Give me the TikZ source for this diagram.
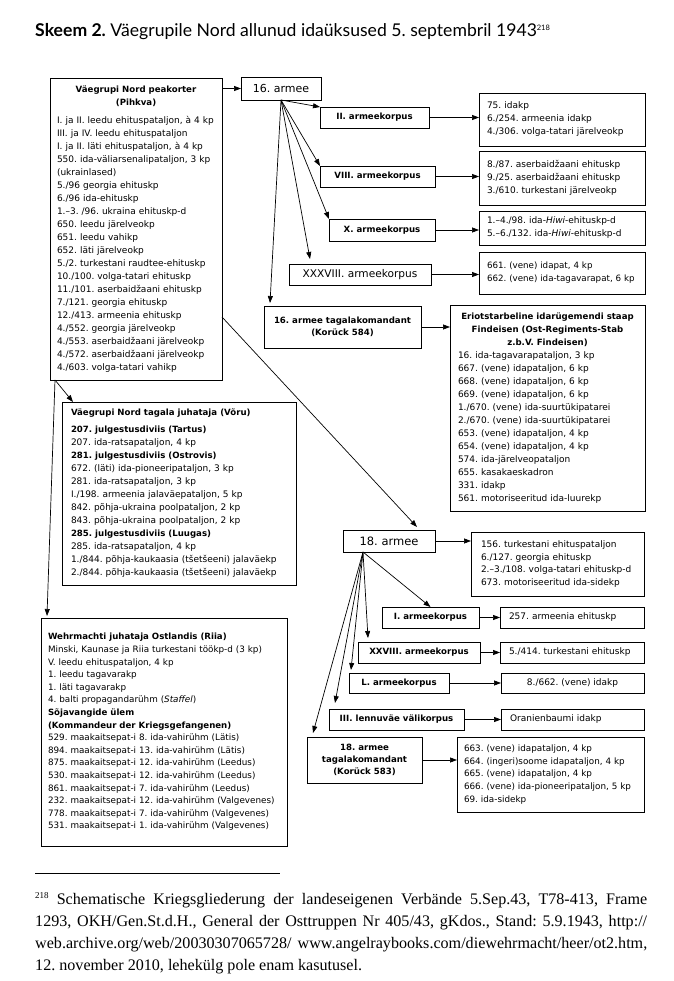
\documentclass[tikz,border=0pt]{standalone}
\usepackage{fontspec}
\setmainfont{DejaVu Sans}
\newfontfamily\titlefont{Lato}
\newfontfamily\notefont{Liberation Serif}
\usetikzlibrary{arrows.meta,calc}
\newcommand\bsm[1]{{\fontsize{8.6}{13}\selectfont\bfseries #1}}
\tikzset{
 box/.style={draw, line width=0.8pt, anchor=north west, inner ysep=0pt, outer sep=0pt},
 itembox/.style={box, align=left, inner xsep=#1, font=\fontsize{9}{13}\selectfont},
 itembox/.default=8pt,
 corps/.style={box, inner xsep=0pt, align=center, font=\fontsize{8.6}{12.3}\selectfont\bfseries},
 army/.style={box, inner xsep=0pt, font=\fontsize{11}{13}\selectfont},
 arr/.style={line width=0.7pt, -{Triangle[length=7pt,width=5pt]}},
}
\begin{document}
\frenchspacing\hyphenpenalty=10000 \exhyphenpenalty=10000
\begin{tikzpicture}[x=1pt,y=-1pt]
\fill[white] (0,0) rectangle (673,981);
\useasboundingbox (0,0) rectangle (673,981);

\node[anchor=base west, inner sep=0pt, font=\titlefont\fontsize{17.6}{20}\selectfont] (title) at (35,37)
 {\textbf{Skeem 2.} Väegrupile Nord allunud idaüksused 5. septembril 1943\raisebox{6pt}{\fontsize{7.5}{8}\selectfont 218}};

% Army group HQ
\node[itembox=7pt, text width=158pt, minimum height=302pt] (hq) at (50,78) {%
{\centering\bsm{Väegrupi Nord peakorter\\(Pihkva)}\par}\vspace{5pt}
I. ja II. leedu ehituspataljon, à 4 kp\\
III. ja IV. leedu ehituspataljon\\
I. ja II. läti ehituspataljon, à 4 kp\\
550. ida-väliarsenalipataljon, 3 kp\\
(ukrainlased)\\
5./96 georgia ehituskp\\
6./96 ida-ehituskp\\
1.–3. /96. ukraina ehituskp-d\\
650. leedu järelveokp\\
651. leedu vahikp\\
652. läti järelveokp\\
5./2. turkestani raudtee-ehituskp\\
10./100. volga-tatari ehituskp\\
11./101. aserbaidžaani ehituskp\\
7./121. georgia ehituskp\\
12./413. armeenia ehituskp\\
4./552. georgia järelveokp\\
4./553. aserbaidžaani järelveokp\\
4./572. aserbaidžaani järelveokp\\
4./603. volga-tatari vahikp};

% 16th army
\node[army, minimum width=80pt, minimum height=23pt] (a16) at (241,77) {16. armee};
\node[corps, minimum width=109pt, minimum height=21pt] (c2) at (320,107) {II. armeekorpus};
\node[itembox, text width=150pt, minimum height=53pt] (r2) at (479,93) {75. idakp\\6./254. armeenia idakp\\4./306. volga-tatari järelveokp};
\node[corps, minimum width=115pt, minimum height=21pt] (c8) at (320,166) {VIII. armeekorpus};
\node[itembox, text width=150pt, minimum height=54pt] (r8) at (479,151) {8./87. aserbaidžaani ehituskp\\9./25. aserbaidžaani ehituskp\\3./610. turkestani järelveokp};
\node[corps, minimum width=106pt, minimum height=22pt] (c10) at (329,219) {X. armeekorpus};
\node[itembox, text width=150pt, minimum height=34pt] (r10) at (479,211) {1.–4./98. ida-\textit{Hiwi}-ehituskp-d\\5.–6./132. ida-\textit{Hiwi}-ehituskp-d};
\node[box, inner xsep=0pt, font=\fontsize{10.6}{13}\selectfont, minimum width=142pt, minimum height=21pt] (c38) at (289,264) {XXXVIII. armeekorpus};
\node[itembox, text width=150pt, minimum height=42pt, font=\fontsize{8.7}{13}\selectfont] (r38) at (479,252) {661. (vene) idapat, 4 kp\\662. (vene) ida-tagavarapat, 6 kp};
\node[corps, minimum width=157pt, minimum height=42pt] (k16) at (264,306) {16. armee tagalakomandant\\(Korück 584)};
\node[itembox, text width=179pt, minimum height=206pt] (find) at (450,305) {%
{\centering\bsm{Eriotstarbeline idarügemendi staap\\Findeisen (Ost-Regiments-Stab\\z.b.V. Findeisen)}\par}
16. ida-tagavarapataljon, 3 kp\\
667. (vene) idapataljon, 6 kp\\
668. (vene) idapataljon, 6 kp\\
669. (vene) idapataljon, 6 kp\\
1./670. (vene) ida-suurtükipatarei\\
2./670. (vene) ida-suurtükipatarei\\
653. (vene) idapataljon, 4 kp\\
654. (vene) idapataljon, 4 kp\\
574. ida-järelveopataljon\\
655. kasakaeskadron\\
331. idakp\\
561. motoriseeritud ida-luurekp};

% rear area commander
\node[itembox=9pt, text width=216pt, minimum height=183pt] (tag) at (62,402) {%
\bsm{Väegrupi Nord tagala juhataja (Võru)}\par\vspace{4pt}
\bsm{207. julgestusdiviis (Tartus)}\\
207. ida-ratsapataljon, 4 kp\\
\bsm{281. julgestusdiviis (Ostrovis)}\\
672. (läti) ida-pioneeripataljon, 3 kp\\
281. ida-ratsapataljon, 3 kp\\
I./198. armeenia jalaväepataljon, 5 kp\\
842. põhja-ukraina poolpataljon, 2 kp\\
843. põhja-ukraina poolpataljon, 2 kp\\
\bsm{285. julgestusdiviis (Luugas)}\\
285. ida-ratsapataljon, 4 kp\\
1./844. põhja-kaukaasia (tšetšeeni) jalaväekp\\
2./844. põhja-kaukaasia (tšetšeeni) jalaväekp};

% 18th army
\node[army, font=\fontsize{11.5}{13}\selectfont, minimum width=92pt, minimum height=22pt] (a18) at (343,530) {18. armee};
\node[itembox=10pt, text width=153pt, minimum height=64pt, font=\fontsize{9}{12.6}\selectfont] (r18) at (471,532) {156. turkestani ehituspataljon\\6./127. georgia ehituskp\\2.–3./108. volga-tatari ehituskp-d\\673. motoriseeritud ida-sidekp};
\node[corps, minimum width=97pt, minimum height=21pt] (c1) at (382,607) {I. armeekorpus};
\node[itembox=9pt, text width=126pt, minimum height=21pt] (r1) at (500,607) {257. armeenia ehituskp};
\node[corps, minimum width=122pt, minimum height=21pt] (c28) at (358,642) {XXVIII. armeekorpus};
\node[itembox=9pt, text width=126pt, minimum height=21pt] (r28) at (500,642) {5./414. turkestani ehituskp};
\node[corps, minimum width=100pt, minimum height=20pt] (cL) at (349,673) {L. armeekorpus};
\node[box, inner xsep=0pt, font=\fontsize{9}{13}\selectfont, minimum width=143pt, minimum height=20pt] (rL) at (501,673) {8./662. (vene) idakp};
\node[corps, minimum width=135pt, minimum height=21pt] (c3) at (329,709) {III. lennuväe välikorpus};
\node[itembox=9pt, text width=125pt, minimum height=21pt] (r3) at (501,709) {Oranienbaumi idakp};
\node[corps, minimum width=115pt, minimum height=46pt] (k18) at (307,737) {18. armee\\tagalakomandant\\(Korück 583)};
\node[itembox=7pt, text width=173pt, minimum height=75pt, font=\fontsize{8.8}{12.7}\selectfont] (r18k) at (457,737) {663. (vene) idapataljon, 4 kp\\664. (ingeri)soome idapataljon, 4 kp\\665. (vene) idapataljon, 4 kp\\666. (vene) ida-pioneeripataljon, 5 kp\\69. ida-sidekp};

% Ostland
\node[itembox=7pt, text width=232pt, minimum height=228pt, font=\fontsize{8.8}{12.6}\selectfont] (wm) at (41,618) {%
\bsm{Wehrmachti juhataja Ostlandis (Riia)}\\
Minski, Kaunase ja Riia turkestani töökp-d (3 kp)\\
V. leedu ehituspataljon, 4 kp\\
1. leedu tagavarakp\\
1. läti tagavarakp\\
4. balti propagandarühm (\textit{Staffel})\\
\bsm{Sõjavangide ülem}\\
\bsm{(Kommandeur der Kriegsgefangenen)}\\
529. maakaitsepat-i 8. ida-vahirühm (Lätis)\\
894. maakaitsepat-i 13. ida-vahirühm (Lätis)\\
875. maakaitsepat-i 12. ida-vahirühm (Leedus)\\
530. maakaitsepat-i 12. ida-vahirühm (Leedus)\\
861. maakaitsepat-i 7. ida-vahirühm (Leedus)\\
232. maakaitsepat-i 12. ida-vahirühm (Valgevenes)\\
778. maakaitsepat-i 7. ida-vahirühm (Valgevenes)\\
531. maakaitsepat-i 1. ida-vahirühm (Valgevenes)};

% connectors
\coordinate (hqA) at ($(hq.south west)+(5,0)$);
\coordinate (hqB) at ($(hq.south east)+(0,-63)$);
\coordinate (a18o) at ($(a18.south west)+(20,0)$);
\coordinate (t38) at ($(c38.north west)+(21,-5)$);
\coordinate (tk16) at ($(k16.north west)+(6,-3)$);
\coordinate (ta18) at ($(a18.north east)+(-18,-3)$);
\coordinate (t28) at ($(c28.north west)+(10,-4)$);
\coordinate (tL) at ($(cL.north west)+(2,-3)$);
\coordinate (t3) at ($(c3.north west)+(6,-6)$);
\coordinate (tk18) at ($(k18.north west)+(6,-4)$);
\coordinate (ttag) at ($(tag.north west)+(11,0)$);
\coordinate (twm) at ($(wm.north west)+(6,-2)$);

\draw[arr] (hq.east |- a16.west) -- (a16.west);
\draw[arr] (a16.south) -- (c2.north west);
\draw[arr] (a16.south) -- (c8.north west);
\draw[arr] (a16.south) -- (c10.north west);
\draw[arr] (a16.south) -- (t38);
\draw[arr] (a16.south) -- (tk16);
\draw[arr] (c2.east) -- (c2.east -| r2.west);
\draw[arr] (c8.east) -- (c8.east -| r8.west);
\draw[arr] (c10.east) -- (c10.east -| r10.west);
\draw[arr] (c38.east) -- (c38.east -| r38.west);
\draw[arr] (k16.east) -- (k16.east -| find.west);

\draw[arr] (hqB) -- (ta18);
\draw[arr] (a18.east) -- (a18.east -| r18.west);
\draw[arr] (a18o) -- (c1.north);
\draw[arr] (a18o) -- (t28);
\draw[arr] (a18o) -- (tL);
\draw[arr] (a18o) -- (t3);
\draw[arr] (a18o) -- (tk18);
\draw[arr] (c1.east) -- (c1.east -| r1.west);
\draw[arr] (c28.east) -- (c28.east -| r28.west);
\draw[arr] (cL.east) -- (cL.east -| rL.west);
\draw[arr] (c3.east) -- (c3.east -| r3.west);
\draw[arr] (k18.east) -- (k18.east -| r18k.west);

\draw[arr] (hqA) -- (ttag);
\draw[arr] (hqA) -- (twm);

% footnote
\draw[line width=0.6pt] (35,873) -- (280,873);
\node[anchor=north west, inner sep=0pt, text width=612pt, align=justify, font=\notefont\fontsize{16.1}{22}\selectfont] (fn) at (35,892) {%
\raisebox{6pt}{\fontsize{9}{9}\selectfont 218} Schematische Kriegsgliederung der landeseigenen Verbände 5.Sep.43, T78-413, Frame\linebreak
1293, OKH/Gen.St.d.H., General der Osttruppen Nr 405/43, gKdos., Stand: 5.9.1943, http://\linebreak
web.archive.org/web/20030307065728/ www.angelraybooks.com/diewehrmacht/heer/ot2.htm,\linebreak
12. november 2010, lehekülg pole enam kasutusel.};
\end{tikzpicture}
\end{document}
